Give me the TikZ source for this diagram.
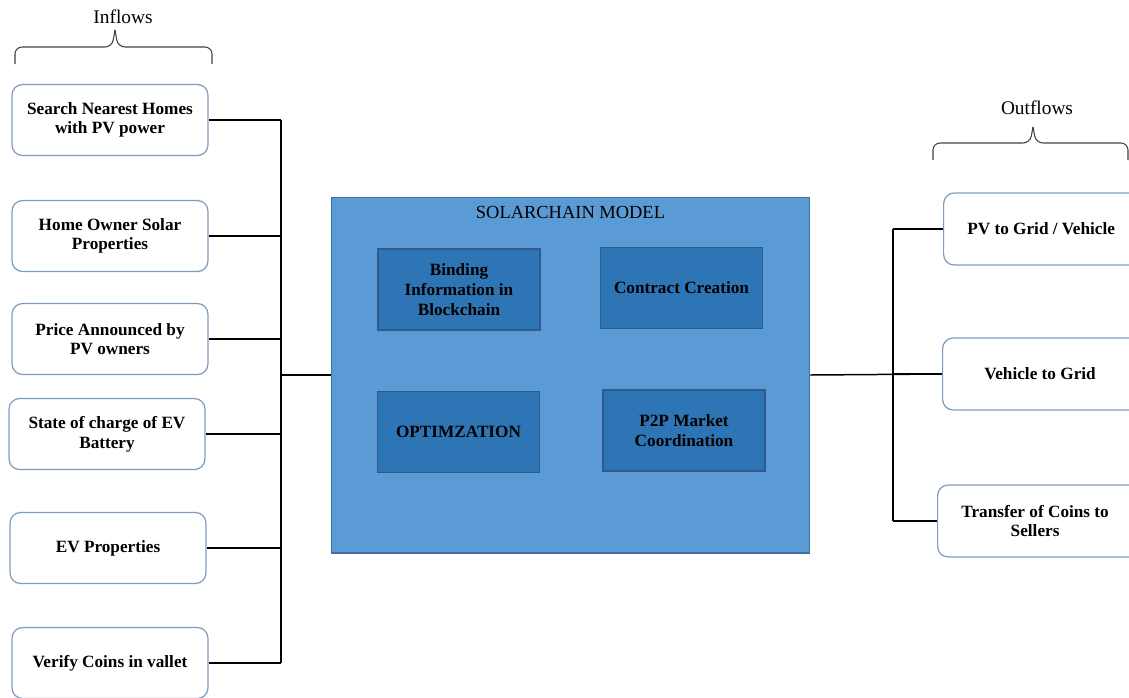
\documentclass[tikz,border=0pt]{standalone}
\usepackage{fontspec}
\setmainfont{Liberation Serif}
\usepackage{tikz}
\usetikzlibrary{positioning, calc}
\definecolor{modelblue}{HTML}{5B9BD5}
\definecolor{modeledge}{HTML}{41719C}
\definecolor{innerblue}{HTML}{2E75B6}
\definecolor{inneredge}{HTML}{2F5A8A}
\definecolor{flowedge}{HTML}{7F9CC0}

\begin{document}
\begin{tikzpicture}[
  x=0.02cm, y=-0.02cm,
  flow/.style={rectangle, rounded corners=6pt, draw=flowedge, fill=white, line width=0.7pt, minimum width=3.92cm, minimum height=1.42cm, font=\fontsize{9.8}{11.2}\selectfont\bfseries, align=center},
  model/.style={rectangle, draw=modeledge, fill=modelblue, line width=0.6pt, minimum width=9.58cm, minimum height=7.12cm},
  inner/.style={rectangle, draw=inneredge, fill=innerblue, line width=0.6pt, minimum width=3.24cm, minimum height=1.62cm, font=\fontsize{9.8}{11.2}\selectfont\bfseries, align=center},
  link/.style={line width=0.85pt, black},
  bracket/.style={rounded corners=4pt, line width=0.6pt, black!75}
]
  \useasboundingbox (0,0) rectangle (1129,697);

  % Inflows
  \node[flow] (in1) at (110,120) {Search Nearest Homes\\with PV power};
  \node[flow] (in2) at (110,236) {Home Owner Solar\\Properties};
  \node[flow] (in3) at (110,339) {Price Announced by\\PV owners};
  \node[flow] (in4) at (107,434) {State of charge of EV\\Battery};
  \node[flow] (in5) at (108,548) {EV Properties};
  \node[flow] (in6) at (110,663) {Verify Coins in vallet};
  \draw[bracket] (15,64) -- (15,47) -- (112,47) -- (115,30);
  \draw[bracket] (212,64) -- (212,47) -- (118,47) -- (115,30);
  \node[font=\fontsize{11}{13}\selectfont] (inlabel) at (123,17) {Inflows};

  % Model
  \node[model] (model) at (570.5,375) {};
  \node[font=\fontsize{10.5}{12}\selectfont, anchor=north] (title) at ($(model.north)+(0,4)$) {SOLARCHAIN MODEL};
  \node[inner] (bind) at (459,289.5) {Binding\\Information in\\Blockchain};
  \node[inner] (contract) at (681.5,288) {Contract Creation};
  \node[inner] (optim) at (458.5,432) {OPTIMZATION};
  \node[inner] (p2p) at (684,430.5) {P2P Market\\Coordination};

  % Outflows
  \node[flow, minimum width=4.1cm, minimum height=1.44cm, anchor=west] (out1) at (943,229) {\hspace*{-0.2cm}PV to Grid / Vehicle};
  \node[flow, minimum width=4.1cm, minimum height=1.44cm, anchor=west] (out2) at (942,374) {\hspace*{-0.2cm}Vehicle to Grid};
  \node[flow, minimum width=4.1cm, minimum height=1.44cm, anchor=west] (out3) at (937,521) {\hspace*{-0.2cm}Transfer of Coins to\\\hspace*{-0.2cm}Sellers};
  \draw[bracket] (933,160) -- (933,143) -- (1030,143) -- (1033,127);
  \draw[bracket] (1128,160) -- (1128,143) -- (1036,143) -- (1033,127);
  \node[font=\fontsize{11}{13}\selectfont] (outlabel) at (1037,108) {Outflows};

  % Bus lines
  \coordinate (busL) at (281,375);
  \coordinate (busR) at (893,375);
  \foreach \n in {in1,in2,in3,in4,in5,in6}
    \draw[link] (\n.east) -- (\n.east -| busL);
  \draw[link] (in1.east -| busL) -- (in6.east -| busL);
  \draw[link] (busL) -- (model.west);
  \foreach \n in {out1,out2,out3}
    \draw[link] (\n.west) -- (\n.west -| busR);
  \draw[link] (out1.west -| busR) -- (out3.west -| busR);
  \draw[link] (model.east) -- (out2.west);
\end{tikzpicture}
\end{document}
